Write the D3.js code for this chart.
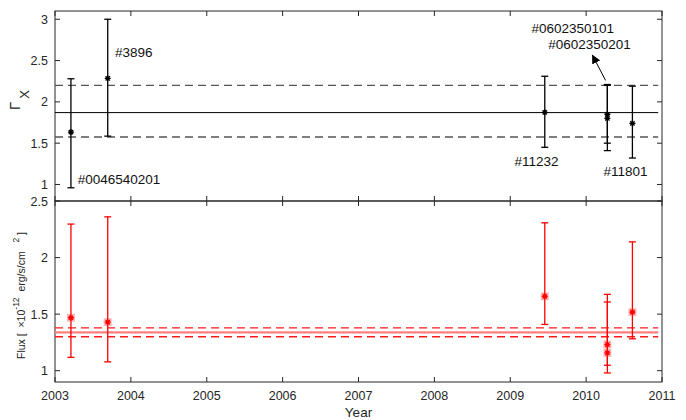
<!DOCTYPE html>
<html><head><meta charset="utf-8">
<script src="https://cdn.jsdelivr.net/npm/d3@7"></script>
<style>body{margin:0;background:#fff}svg{display:block}text{font-family:"Liberation Sans",Arial,sans-serif}</style>
</head><body><svg id="c" width="686" height="420"></svg>
<script>
// ---- data ----
const years    = [2003.21, 2003.695, 2009.455, 2010.28, 2010.28, 2010.61];
const gamma    = [1.634, 2.285, 1.873, 1.85, 1.80, 1.74];
const gammaLo  = [0.96, 1.585, 1.45, 1.50, 1.41, 1.32];
const gammaHi  = [2.28, 3.0, 2.31, 2.21, 2.20, 2.19];
const flux     = [1.468, 1.429, 1.657, 1.231, 1.157, 1.518];
const fluxLo   = [1.118, 1.078, 1.409, 1.048, 0.98, 1.282];
const fluxHi   = [2.296, 2.36, 2.307, 1.607, 1.675, 2.139];
const gammaMean = 1.87, gammaBand = [1.575, 2.20];
const fluxMean = 1.338, fluxBand = [1.30, 1.379];
const xTicks = [2003, 2004, 2005, 2006, 2007, 2008, 2009, 2010, 2011];
const gTicks = [1, 1.5, 2, 2.5, 3];
const fTicks = [1, 1.5, 2, 2.5];
const labels = [
  {t:"#0046540201", x:2003.30, y:1.00},
  {t:"#3896", x:2003.79, y:2.545},
  {t:"#11232", x:2009.055, y:1.224},
  {t:"#11801", x:2010.23, y:1.103},
  {t:"#0602350101", x:2009.28, y:2.836},
  {t:"#0602350201", x:2009.50, y:2.642}
];

const svg = d3.select("#c");
const L = 55, R = 662, T1 = 11, B1 = 201, T2 = 201, B2 = 382;
const axc = "#262626";
const x = d3.scaleLinear().domain([2003, 2011]).range([L, R]);
const yG = d3.scaleLinear().domain([0.8, 3.1]).range([B1, T1]);
const yF = d3.scaleLinear().domain([0.9, 2.5]).range([B2, T2]);

function frame(y, top, bot, ticks) {
  const g = svg.append("g");
  xTicks.forEach(t => {
    g.append("line").attr("x1", x(t)).attr("x2", x(t)).attr("y1", bot).attr("y2", bot - 5).attr("stroke", axc);
    g.append("line").attr("x1", x(t)).attr("x2", x(t)).attr("y1", top).attr("y2", top + 5).attr("stroke", axc);
  });
  ticks.forEach(t => {
    g.append("line").attr("x1", L).attr("x2", L + 5).attr("y1", y(t)).attr("y2", y(t)).attr("stroke", axc);
    g.append("line").attr("x1", R).attr("x2", R - 5).attr("y1", y(t)).attr("y2", y(t)).attr("stroke", axc);
    g.append("text").attr("x", L - 7).attr("y", y(t) + 4.5).attr("text-anchor", "end")
      .attr("font-size", 12.5).attr("fill", axc).text(d3.format("")(t));
  });
  g.append("rect").attr("x", L).attr("y", top).attr("width", R - L).attr("height", bot - top)
    .attr("fill", "none").attr("stroke", axc).attr("stroke-width", 1);
}

function asterisk(g, cx, cy, col, s) {
  const p = d3.path();
  p.moveTo(cx - s, cy); p.lineTo(cx + s, cy);
  p.moveTo(cx, cy - s); p.lineTo(cx, cy + s);
  const d = s * 0.72;
  p.moveTo(cx - d, cy - d); p.lineTo(cx + d, cy + d);
  p.moveTo(cx - d, cy + d); p.lineTo(cx + d, cy - d);
  g.append("path").attr("d", p.toString()).attr("stroke", col).attr("stroke-width", 1.3).attr("fill", "none");
}

function errbars(y, vals, lo, hi, col, halo) {
  const g = svg.append("g");
  years.forEach((yr, i) => {
    const cx = x(yr);
    g.append("line").attr("x1", cx).attr("x2", cx).attr("y1", y(lo[i])).attr("y2", y(hi[i])).attr("stroke", col).attr("stroke-width", 1.3);
    [lo[i], hi[i]].forEach(v => g.append("line").attr("x1", cx - 3.5).attr("x2", cx + 3.5)
      .attr("y1", y(v)).attr("y2", y(v)).attr("stroke", col).attr("stroke-width", 1.3));
    if (halo) g.append("rect").attr("x", cx - 4).attr("y", y(vals[i]) - 4).attr("width", 8).attr("height", 8)
      .attr("fill", "rgba(255,60,60,0.35)");
    asterisk(g, cx, y(vals[i]), col, 3);
  });
}

// top panel
frame(yG, T1, B1, gTicks);
const xe = x(2010.95);
svg.append("line").attr("x1", L).attr("x2", xe).attr("y1", yG(gammaMean)).attr("y2", yG(gammaMean)).attr("stroke", "#000").attr("stroke-width", 1);
gammaBand.forEach(v => svg.append("line").attr("x1", L).attr("x2", xe).attr("y1", yG(v)).attr("y2", yG(v))
  .attr("stroke", "#555").attr("stroke-width", 1.3).attr("stroke-dasharray", "8,5"));
errbars(yG, gamma, gammaLo, gammaHi, "#000", false);
labels.forEach(l => svg.append("text").attr("x", x(l.x)).attr("y", yG(l.y)).attr("font-size", 13.5).attr("fill", "#111").text(l.t));
// arrow
svg.append("defs").append("marker").attr("id", "ah").attr("viewBox", "0 0 10 10").attr("refX", 9).attr("refY", 5)
  .attr("markerWidth", 9).attr("markerHeight", 9).attr("markerUnits", "userSpaceOnUse").attr("orient", "auto")
  .append("path").attr("d", "M0,0L10,5L0,10Z").attr("fill", "#000");
svg.append("line").attr("x1", x(2010.256)).attr("y1", yG(2.26)).attr("x2", x(2010.084)).attr("y2", yG(2.564))
  .attr("stroke", "#000").attr("stroke-width", 1).attr("marker-end", "url(#ah)");

// y label top
const gl = svg.append("text").attr("transform", `translate(20,${(T1 + B1) / 2 - 6}) rotate(-90)`).attr("text-anchor", "middle").attr("font-size", 15).attr("fill", axc);
gl.append("tspan").text("Γ");
gl.append("tspan").attr("dy", 9).attr("dx", 3).attr("font-size", 13).text("X");

// bottom panel
frame(yF, T2, B2, fTicks);
svg.append("line").attr("x1", L).attr("x2", xe).attr("y1", yF(fluxMean)).attr("y2", yF(fluxMean)).attr("stroke", "#ff7f7f").attr("stroke-width", 2.2);
fluxBand.forEach(v => svg.append("line").attr("x1", L).attr("x2", xe).attr("y1", yF(v)).attr("y2", yF(v))
  .attr("stroke", "#ff1a1a").attr("stroke-width", 1.3).attr("stroke-dasharray", "8,5"));
errbars(yF, flux, fluxLo, fluxHi, "#ff0000", true);

// x tick labels
xTicks.forEach(t => svg.append("text").attr("x", x(t)).attr("y", 400).attr("text-anchor", "middle").attr("font-size", 12.5).attr("fill", axc).text(t));
svg.append("text").attr("x", (L + R) / 2).attr("y", 417).attr("text-anchor", "middle").attr("font-size", 13.5).attr("fill", axc).text("Year");

// y label bottom
const fl = svg.append("text").attr("transform", `translate(25,${(T2 + B2) / 2 + 4}) rotate(-90)`).attr("text-anchor", "middle").attr("font-size", 10.5).attr("fill", axc).attr("xml:space", "preserve");
fl.append("tspan").text("Flux [  ×10");
fl.append("tspan").attr("dy", -6).attr("font-size", 8.5).text("-12");
fl.append("tspan").attr("dy", 6).text("  erg/s/cm   ");
fl.append("tspan").attr("dy", -6).attr("font-size", 8.5).text("2");
fl.append("tspan").attr("dy", 6).text(" ]");
</script></body></html>
